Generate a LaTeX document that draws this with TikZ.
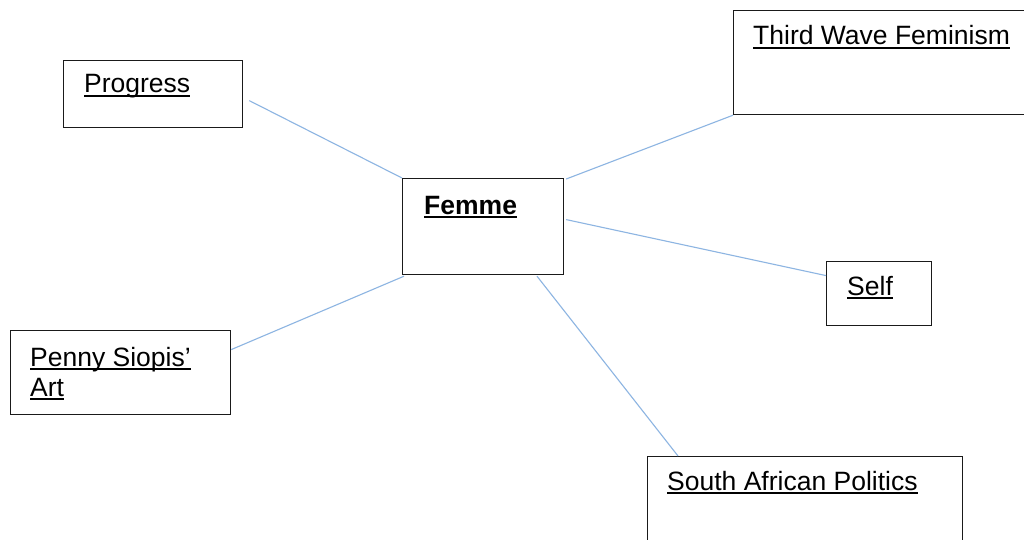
\documentclass[tikz,border=0pt]{standalone}
\usepackage{fontspec}
\setmainfont{Liberation Sans}
\usetikzlibrary{calc}
% underline drawn at a fixed depth below the baseline, crossing descenders
\newcommand\ulx[1]{\setbox0\hbox{#1}\rlap{\rule[-4.2pt]{\wd0}{1.9pt}}\box0}
\definecolor{linkblue}{HTML}{8DB5E2}
\definecolor{boxline}{HTML}{1A1A1A}
\begin{document}
\begin{tikzpicture}[x=1pt,y=-1pt,
  box/.style={draw=boxline, line width=1.2pt, rectangle, inner sep=0pt, anchor=north west},
  lbl/.style={anchor=base west, inner sep=0pt, font=\fontsize{26.5}{30}\selectfont, text=black},
  link/.style={draw=linkblue, line width=1.1pt}]
\useasboundingbox (0,0) rectangle (1024,540);
\clip (0,0) rectangle (1024,540);
\fill[white] (0,0) rectangle (1024,540);

% topic boxes
\node[box, minimum width=179pt, minimum height=67pt]  (prog)  at (63,60)   {};
\node[box, minimum width=161pt, minimum height=96pt]  (fem)   at (402,178) {};
\node[box, minimum width=300pt, minimum height=104pt] (tw)    at (733,10)  {};
\node[box, minimum width=105pt, minimum height=64pt]  (self)  at (826,261) {};
\node[box, minimum width=220pt, minimum height=84pt]  (penny) at (10,330)  {};
\node[box, minimum width=315pt, minimum height=100pt] (sap)   at (647,456) {};

% labels
\node[lbl] (progT)  at ($(prog.north west)+(21,33)$)  {\ulx{Progress}};
\node[lbl] (femT)   at ($(fem.north west)+(22,36)$)   {\bfseries\ulx{Femme}};
\node[lbl] (twT)    at ($(tw.north west)+(20,35)$)    {\ulx{Third Wave Feminism}};
\node[lbl] (selfT)  at ($(self.north west)+(21,34)$)  {\ulx{Self}};
\node[lbl] (pennyT) at ($(penny.north west)+(20,36)$) {\ulx{Penny Siopis’}};
\node[lbl] (artT)   at ($(penny.north west)+(20,66)$) {\ulx{Art}};
\node[lbl] (sapT)   at ($(sap.north west)+(20,34)$)   {\ulx{South African Politics}};

% connectors from the centre topic
\draw[link] ($(prog.east)+(6,6.5)$) -- (fem.north west);
\draw[link] (tw.south west) -- ($(fem.north east)+(2,1)$);
\draw[link] ($(self.west)+(0,-18)$) -- ($(fem.east)+(2,-7)$);
\draw[link] ($(penny.east)+(0,-23)$) -- ($(fem.south west)+(2,1)$);
\draw[link] ($(sap.north west)+(31,0)$) -- ($(fem.south west)+(135,1)$);
\end{tikzpicture}
\end{document}
